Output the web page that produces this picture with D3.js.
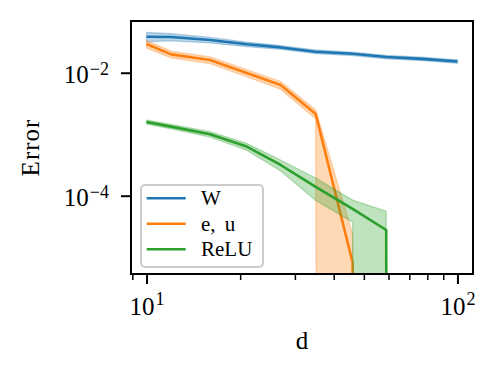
<!DOCTYPE html>
<html><head><meta charset="utf-8">
<script src="https://cdn.jsdelivr.net/npm/d3@7"></script>
<style>body{margin:0;background:#fff}</style>
</head><body>
<svg id="chart" width="498" height="375"></svg>
<script>
// ---- data ----
const dValues = [10, 12, 16, 21, 27, 35, 46, 59, 77, 100];
const seriesLabels = ["W", "e, u", "ReLU"];
const seriesColors = ["#1f77b4", "#ff7f0e", "#2ca02c"];
const wMean = [0.0385, 0.038, 0.034, 0.029, 0.0258, 0.0219, 0.0203, 0.018, 0.0168, 0.0152];
const wStd  = [0.0066, 0.005, 0.0035, 0.0025, 0.0018, 0.0015, 0.0013, 0.0012, 0.0011, 0.001];
const euMean = [0.0293, 0.0199, 0.0161, 0.0099, 0.0063, 0.00213, 8.2e-6, 0, 0, 0];
const euStd  = [0.004, 0.0025, 0.002, 0.0013, 0.0009, 0.00035, 1.55e-5, 0, 0, 0];
const reluMean = [1.58e-3, 1.33e-3, 1.0e-3, 6.3e-4, 3.16e-4, 1.39e-4, 6.1e-5, 2.77e-5, 0, 0];
const reluStd  = [1.2e-4, 1.1e-4, 1.0e-4, 8e-5, 6.3e-5, 5.5e-5, 2.4e-5, 2.8e-5, 0, 0];
const xMajorTicks = [10, 100];
const xMajorExp = ["1", "2"];
const xMinorTicks = [9, 20, 30, 40, 50, 60, 70, 80, 90];
const yMajorTicks = [1e-2, 1e-4];
const yMajorExp = ["\u22122", "\u22124"];
const xLabel = "d";
const yLabel = "Error";

// ---- layout ----
const L = 131, R = 473, T = 21, B = 274;
const FONT = "'Liberation Serif', 'Times New Roman', serif";
const svg = d3.select("#chart");

const series = [wMean, euMean, reluMean].map((m, i) => ({
  label: seriesLabels[i], color: seriesColors[i],
  pts: dValues.map((d, j) => {
    const s = [wStd, euStd, reluStd][i][j];
    return { d, m: m[j], lo: m[j] - s, hi: m[j] + s };
  })
}));

// autoscale like matplotlib (5% margins in log space, positive values only)
const pos = [];
series.forEach(s => s.pts.forEach(p => [p.m, p.lo, p.hi].forEach(v => { if (v > 0) pos.push(v); })));
const lyMin = Math.log10(d3.min(pos)), lyMax = Math.log10(d3.max(pos));
const ypad = 0.05 * (lyMax - lyMin);
const lxMin = Math.log10(d3.min(dValues)), lxMax = Math.log10(d3.max(dValues));
const xpad = 0.05 * (lxMax - lxMin);

const x = d3.scaleLog().domain([10 ** (lxMin - xpad), 10 ** (lxMax + xpad)]).range([L, R]);
const y = d3.scaleLog().domain([10 ** (lyMin - ypad), 10 ** (lyMax + ypad)]).range([B, T]);
const clipV = v => (v > 0 ? v : 1e-300);

svg.append("clipPath").attr("id", "plotclip").append("rect")
  .attr("x", L).attr("y", T).attr("width", R - L).attr("height", B - T);

const plot = svg.append("g").attr("clip-path", "url(#plotclip)");
const line = d3.line().x(p => x(p.d)).y(p => y(clipV(p.m)));
const area = d3.area().x(p => x(p.d)).y0(p => y(clipV(p.lo))).y1(p => y(clipV(p.hi)));

series.forEach(s => {
  plot.append("path").datum(s.pts).attr("d", line)
    .attr("fill", "none").attr("stroke", s.color).attr("stroke-width", 2.6)
    .attr("stroke-linejoin", "round").attr("stroke-linecap", "butt");
  plot.append("path").datum(s.pts).attr("d", area)
    .attr("fill", s.color).attr("fill-opacity", 0.3)
    .attr("stroke", s.color).attr("stroke-opacity", 0.3).attr("stroke-width", 1.3);
});

// ---- axes ----
function styleAxis(g) {
  g.select(".domain").remove();
  g.attr("font-family", FONT).attr("font-size", 25);
  g.selectAll(".tick line").attr("stroke", "#000");
}
const gxMinor = svg.append("g").attr("transform", `translate(0,${B})`)
  .call(d3.axisBottom(x).tickValues(xMinorTicks).tickSize(6).tickFormat(() => ""));
styleAxis(gxMinor);
gxMinor.selectAll(".tick line").attr("stroke-width", 1.5);

const gx = svg.append("g").attr("transform", `translate(0,${B})`)
  .call(d3.axisBottom(x).tickValues(xMajorTicks).tickSize(10).tickFormat(() => ""));
styleAxis(gx);
gx.selectAll(".tick line").attr("stroke-width", 2);
gx.selectAll(".tick text").each(function (d, i) {
  const t = d3.select(this).attr("y", 41).attr("dy", 0).attr("fill", "#000");
  t.append("tspan").text("10");
  t.append("tspan").attr("dx", 1).attr("dy", -10).attr("font-size", 18).text(xMajorExp[i]);
});

const gy = svg.append("g").attr("transform", `translate(${L},0)`)
  .call(d3.axisLeft(y).tickValues(yMajorTicks).tickSize(10).tickFormat(() => ""));
styleAxis(gy);
gy.selectAll(".tick line").attr("stroke-width", 2);
gy.selectAll(".tick text").each(function (d, i) {
  const t = d3.select(this).attr("x", -22).attr("y", 10).attr("dy", 0).attr("fill", "#000");
  t.append("tspan").text("10");
  t.append("tspan").attr("dx", 1).attr("dy", -8).attr("font-size", 18).text(yMajorExp[i]);
});

// spines
svg.append("rect").attr("x", L).attr("y", T).attr("width", R - L).attr("height", B - T)
  .attr("fill", "none").attr("stroke", "#000").attr("stroke-width", 2);

// axis labels
svg.append("text").attr("x", (L + R) / 2).attr("y", 349).attr("text-anchor", "middle")
  .attr("font-family", FONT).attr("font-size", 25).text(xLabel);
svg.append("text").attr("transform", `translate(39,${(T + B) / 2}) rotate(-90)`)
  .attr("text-anchor", "middle").attr("font-family", FONT).attr("font-size", 25)
  .attr("letter-spacing", 1).text(yLabel);

// legend
const lg = svg.append("g");
lg.append("rect").attr("x", 141).attr("y", 185).attr("width", 122).attr("height", 82)
  .attr("rx", 4).attr("fill", "#fff").attr("fill-opacity", 0.8)
  .attr("stroke", "#cccccc").attr("stroke-width", 2);
series.forEach((s, i) => {
  const yy = 198.3 + i * 25.5;
  lg.append("line").attr("x1", 146.7).attr("x2", 185.7).attr("y1", yy).attr("y2", yy)
    .attr("stroke", s.color).attr("stroke-width", 2.6);
  lg.append("text").attr("x", 201).attr("y", yy + 7).attr("font-family", FONT)
    .attr("font-size", 21).attr("word-spacing", 4).text(s.label);
});
</script>
</body></html>
